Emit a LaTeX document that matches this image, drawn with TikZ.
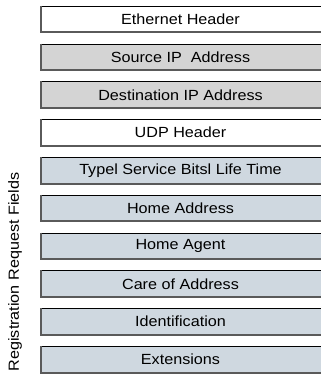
\documentclass[tikz,border=0pt]{standalone}
\usepackage{fontspec}
\setmainfont{Liberation Sans}[FakeStretch=1.1]
\definecolor{ipgrey}{HTML}{D4D4D4}
\definecolor{regblue}{HTML}{CFD8E0}
\definecolor{edgegrey}{HTML}{5A5A5A}
\tikzset{
  field/.style={minimum width=300pt, minimum height=26pt, inner sep=0pt, anchor=north west,
    font=\fontsize{14.7}{17}\selectfont, text=black, text width=300pt, align=left},
  ftext/.style={font=\fontsize{14.7}{17}\selectfont, anchor=center},
}
\newcommand{\fieldbox}[4]{%
  % #1 name, #2 top y (image px), #3 fill, #4 text
  \fill[#3] (41,-#2) rectangle (330,-#2-26);
  \draw[black, line width=1pt] (41,-#2) -- (330,-#2);
  \draw[edgegrey, line width=2pt] (40.5,-#2+0.5) -- (40.5,-#2-26);
  \draw[edgegrey, line width=2pt] (40,-#2-26) -- (330,-#2-26);
  \node[ftext] (#1) at (180.5,-#2-13) {#4};
}
\begin{document}
\begin{tikzpicture}[x=1pt,y=1pt]
\useasboundingbox (0,0) rectangle (321,-381);
\fieldbox{eth}{6.3}{white}{Ethernet Header}
\fieldbox{src}{44.1}{ipgrey}{Source IP\ \ Address}
\fieldbox{dst}{81.9}{ipgrey}{Destination IP Address}
\fieldbox{udp}{119.7}{white}{UDP Header}
\fieldbox{type}{157.5}{regblue}{Typel Service Bitsl Life Time}
\fieldbox{home}{195.3}{regblue}{Home Address}
\fieldbox{agent}{233.1}{regblue}{Home Agent}
\fieldbox{care}{270.9}{regblue}{Care of Address}
\fieldbox{ident}{308.7}{regblue}{Identification}
\fieldbox{ext}{346.5}{regblue}{Extensions}
\node[ftext, rotate=90] (lbl) at (15,-272) {Registration Request Fields};
\end{tikzpicture}
\end{document}
